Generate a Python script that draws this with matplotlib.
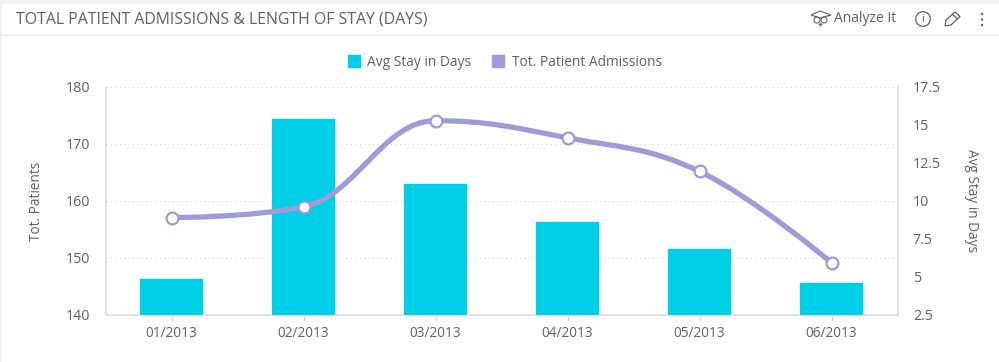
import matplotlib
matplotlib.use("Agg")
import matplotlib.pyplot as plt
from matplotlib.path import Path
from matplotlib.patches import PathPatch, Rectangle, Circle, Polygon
from matplotlib.lines import Line2D

plt.rcParams['font.family'] = ['Open Sans', 'DejaVu Sans']

categories = ['01/2013', '02/2013', '03/2013', '04/2013', '05/2013', '06/2013']
avg_stay = [4.93, 15.46, 11.18, 8.68, 6.87, 4.67]
admissions = [157.0, 158.9, 174.0, 171.0, 165.1, 149.1]
left_ticks = [140, 150, 160, 170, 180]
right_ticks = [2.5, 5, 7.5, 10, 12.5, 15, 17.5]
right_labels = ['2.5', '5', '7.5', '10', '12.5', '15', '17.5']

TEXT = '#5b6070'
CYAN = '#00cfe8'
PURPLE = '#9d9bd8'
AXIS = '#d8d8dc'
W, H = 999, 362


def spline(xs, ys, smoothing=1.5):
    """Smooth curve through the data points, as a bezier path."""
    d = smoothing + 1
    verts = [(xs[0], ys[0])]
    codes = [Path.MOVETO]
    n = len(xs)
    prev_r = (xs[0], ys[0])
    for i in range(1, n):
        x, y = xs[i], ys[i]
        if i < n - 1:
            lx = (smoothing * x + xs[i - 1]) / d
            ly = (smoothing * y + ys[i - 1]) / d
            rx = (smoothing * x + xs[i + 1]) / d
            ry = (smoothing * y + ys[i + 1]) / d
            corr = ((ry - ly) * (rx - x)) / (rx - lx) + y - ry
            ly += corr
            ry += corr
            if ly > max(y, ys[i - 1]) or ly < min(y, ys[i - 1]):
                lim = max(y, ys[i - 1]) if ly > y else min(y, ys[i - 1])
                ry = 2 * y - lim
                ly = lim
            if ry > max(y, ys[i + 1]) or ry < min(y, ys[i + 1]):
                lim = max(y, ys[i + 1]) if ry > y else min(y, ys[i + 1])
                ly = 2 * y - lim
                ry = lim
        else:
            lx, ly, rx, ry = x, y, x, y
        verts += [prev_r, (lx, ly), (x, y)]
        codes += [Path.CURVE4] * 3
        prev_r = (rx, ry)
    return Path(verts, codes)


fig = plt.figure(figsize=(W / 100, H / 100), dpi=100, facecolor='white')
ax = fig.add_axes([105.5 / W, 1 - 314.5 / H, (897.5 - 105.5) / W, (314.5 - 86.5) / H])
xs = list(range(len(categories)))

# grid + left axis
ax.set_xlim(-0.5, 5.5)
ax.set_ylim(left_ticks[0], left_ticks[-1])
ax.set_yticks(left_ticks)
ax.set_xticks(xs, categories)
ax.yaxis.grid(True, color='#d4d4d8', lw=0.8, ls=(0, (1, 3)))
ax.set_axisbelow(True)
ax.tick_params(axis='y', length=0, labelsize=10.3, labelcolor=TEXT, pad=11)
ax.tick_params(axis='x', length=4, width=1, color=AXIS, labelsize=9.8, labelcolor=TEXT, pad=4)
ax.spines['top'].set_visible(False)
for s in ['left', 'right', 'bottom']:
    ax.spines[s].set_color(AXIS)
    ax.spines[s].set_linewidth(1.1)

# bars on right axis
ax2 = ax.twinx()
ax2.set_ylim(right_ticks[0], right_ticks[-1])
ax2.set_yticks(right_ticks, right_labels)
ax2.tick_params(axis='y', length=0, labelsize=10.3, labelcolor=TEXT, pad=11)
for s in ax2.spines.values():
    s.set_visible(False)
ax2.bar(xs, avg_stay, bottom=0, width=0.485, color=CYAN, edgecolor='white', linewidth=1.2, clip_on=True)

# line on left scale
ax3 = ax.twinx()
ax3.set_ylim(left_ticks[0], left_ticks[-1])
ax3.set_yticks([])
for s in ax3.spines.values():
    s.set_visible(False)
ax3.add_patch(PathPatch(spline(xs, admissions), fill=False, ec=PURPLE, lw=3.8, capstyle='round', clip_on=False))
ax3.plot(xs, admissions, ls='none', marker='o', ms=8.5, mfc='white', mec=PURPLE, mew=1.6, clip_on=False)

fig.text(36.5 / W, 1 - 201 / H, 'Tot. Patients', rotation=90, ha='center', va='center', fontsize=9.8, color=TEXT)
fig.text(972 / W, 1 - 201 / H, 'Avg Stay in Days', rotation=270, ha='center', va='center', fontsize=9.8, color=TEXT)

# legend
h1 = Line2D([], [], ls='none', marker='s', ms=8.8, mfc=CYAN, mec=CYAN)
h2 = Line2D([], [], ls='none', marker='s', ms=8.8, mfc=PURPLE, mec=PURPLE)
leg = fig.legend([h1, h2], ['Avg Stay in Days', 'Tot. Patient Admissions'], ncols=2, frameon=False,
                 loc='center', bbox_to_anchor=(504.5 / W, 1 - 62.5 / H), fontsize=9.9,
                 labelcolor=TEXT, handlelength=1, handletextpad=0.5, columnspacing=1.45)

# page furniture drawn in pixel coordinates
bg = fig.add_axes([0, 0, 1, 1], zorder=-5)
bg.set_xlim(0, W)
bg.set_ylim(H, 0)
bg.axis('off')
bg.add_patch(Rectangle((0, 0), W, 4, fc='#f1f1f3', ec='none'))
bg.add_patch(Rectangle((0, 0), 2, H, fc='#f1f1f3', ec='none'))
bg.add_patch(Rectangle((0, 33.5), W, 2, fc='#efeff1', ec='none'))

fg = fig.add_axes([0, 0, 1, 1], zorder=5)
fg.set_xlim(0, W)
fg.set_ylim(H, 0)
fg.axis('off')
fg.patch.set_alpha(0)
fg.text(16, 19, 'TOTAL PATIENT ADMISSIONS & LENGTH OF STAY (DAYS)', fontsize=11.4, color=TEXT, va='center', ha='left')
fg.text(834, 19, 'Analyze It', fontsize=10, color=TEXT, va='center', ha='left')

# owl / cap icon
ic = {'fc': 'none', 'ec': TEXT, 'lw': 0.8}
fg.add_patch(Polygon([(811, 15), (820, 11), (831, 15), (820, 18)], **ic))
fg.add_patch(Circle((817, 20), 3, **ic))
fg.add_patch(Circle((824, 20), 3, **ic))
fg.add_patch(Polygon([(819, 24), (820.5, 26), (822, 24)], **ic))
# info icon
fg.add_patch(Circle((923, 19), 7.3, fc='none', ec=TEXT, lw=0.9))
fg.text(923, 19, 'i', fontsize=8, color=TEXT, ha='center', va='center')
# pencil icon
fg.add_patch(Polygon([(945, 26), (946, 20), (955, 12), (960, 16.5), (951, 25)], fc='none', ec=TEXT, lw=0.9))
fg.add_line(Line2D([952.5, 957.5], [14.5, 19], color=TEXT, lw=0.9))
# kebab icon
for y in (14, 19.5, 25):
    fg.add_patch(Circle((982, y), 1.2, fc=TEXT, ec='none'))

fig.savefig('out.png', dpi=100, facecolor='white')
